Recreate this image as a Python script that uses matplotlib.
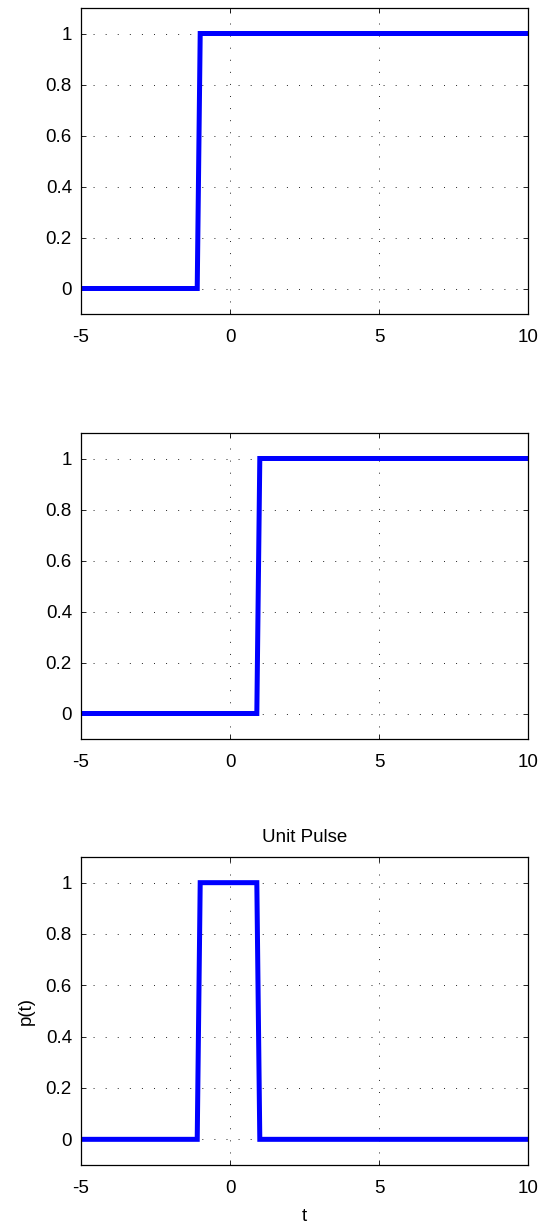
import numpy as np
import matplotlib
matplotlib.use("Agg")
import matplotlib.pyplot as plt

plt.rcParams['font.family'] = ['Liberation Sans', 'DejaVu Sans']
plt.rcParams['font.size'] = 13.5
plt.rcParams['axes.unicode_minus'] = False
plt.rcParams['lines.scale_dashes'] = False

# Data: sampled time axis and signals
t_start, t_stop, t_step = -5.0, 10.0, 0.1
t = np.round(np.arange(t_start, t_stop + t_step / 2, t_step), 6)
u_shift_left = (t >= -1).astype(float)      # u(t+1)
u_shift_right = (t >= 1).astype(float)      # u(t-1)
pulse = u_shift_left - u_shift_right        # p(t)

series = [u_shift_left, u_shift_right, pulse]
titles = ["", "", "Unit Pulse"]
ylabels = ["", "", "p(t)"]
xlabels = ["", "", "t"]
xticks = [-5, 0, 5, 10]
yticks = [0, 0.2, 0.4, 0.6, 0.8, 1]
ytick_labels = ["0", "0.2", "0.4", "0.6", "0.8", "1"]

W, H = 540, 1227
fig = plt.figure(figsize=(W / 100, H / 100), dpi=100)

boxes = [(8, 314), (433, 739), (857, 1165)]
left_px, right_px = 81, 528

for (top, bot), y, ttl, yl, xl in zip(boxes, series, titles, ylabels, xlabels):
    ax = fig.add_axes([left_px / W, 1 - bot / H, (right_px - left_px) / W, (bot - top) / H])
    ax.plot(t, y, color=(0, 0, 1), linewidth=3.6, solid_joinstyle='miter')
    ax.set_xlim(-5, 10)
    ax.set_ylim(-0.1, 1.1)
    ax.set_xticks(xticks)
    ax.set_yticks(yticks)
    ax.set_yticklabels(ytick_labels)
    ax.grid(True, color='black', linewidth=0.6, linestyle=(0, (0.7, 8.0)))
    ax.tick_params(direction='in', length=3.5, width=0.6, top=True, right=True,
                   colors='black', labelsize=13.5)
    ax.tick_params(axis='x', pad=10.5)
    ax.tick_params(axis='y', pad=6.5)
    for s in ax.spines.values():
        s.set_linewidth(0.9)
        s.set_color('black')
    if ttl:
        ax.set_title(ttl, fontsize=13.5, pad=11)
    if yl:
        ax.set_ylabel(yl, fontsize=13.5, labelpad=8)
    if xl:
        ax.set_xlabel(xl, fontsize=13.5, labelpad=8)

fig.savefig("out.png", dpi=100)
